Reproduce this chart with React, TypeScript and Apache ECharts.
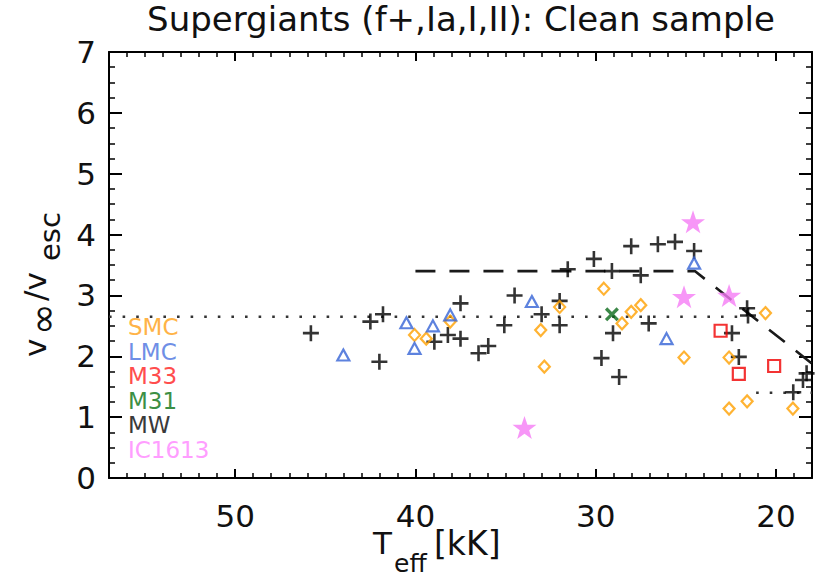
import React, { useEffect, useRef } from "react";
import * as echarts from "echarts";

const FONT = '"DejaVu Sans", "Liberation Sans", sans-serif';

const X_MIN = 18;
const X_MAX = 57;
const xMajorTicks = [20, 30, 40, 50];
const xMinorTicks = [
  18, 19, 21, 22, 23, 24, 25, 26, 27, 28, 29, 31, 32, 33, 34, 35, 36, 37, 38, 39,
  41, 42, 43, 44, 45, 46, 47, 48, 49, 51, 52, 53, 54, 55, 56, 57,
];
const Y_MIN = 0;
const Y_MAX = 7;

// [Teff (kK), v_inf / v_esc]
const mwPoints = [
  [45.8, 2.38], [42.5, 2.57], [41.8, 2.69], [42.0, 1.91], [38.95, 2.24],
  [38.2, 2.35], [37.5, 2.29], [37.5, 2.87], [36.5, 2.05], [35.96, 2.17],
  [35.07, 2.51], [34.5, 3.0], [33.0, 2.69], [32.0, 2.91], [32.0, 2.51],
  [31.55, 3.43], [30.1, 3.6], [29.1, 3.4], [29.68, 1.97], [29.04, 2.38],
  [28.7, 1.66], [28.03, 3.81], [27.5, 3.33], [27.06, 2.54], [26.55, 3.84],
  [25.6, 3.88], [24.54, 3.73], [22.44, 2.38], [22.06, 1.99], [21.6, 2.79],
  [21.55, 2.67], [19.04, 1.41], [18.5, 1.61], [18.3, 1.72],
];
const smcPoints = [
  [40.05, 2.35], [39.4, 2.29], [38.07, 2.57], [33.05, 2.43], [32.85, 1.83],
  [32.0, 2.81], [29.55, 3.11], [28.54, 2.54], [28.03, 2.73], [27.5, 2.84],
  [25.1, 1.98], [22.6, 1.98], [22.6, 1.14], [21.6, 1.26], [20.58, 2.71],
  [19.06, 1.14],
];
const lmcPoints = [
  [44.0, 2.02], [40.5, 2.55], [40.05, 2.13], [39.03, 2.5], [38.07, 2.68],
  [33.54, 2.9], [26.07, 2.29], [24.54, 3.53],
];
const m33Points = [[23.07, 2.42], [22.06, 1.71], [20.1, 1.84]];
const m31Points = [[29.1, 2.69]];
const ic1613Points = [[24.6, 4.21], [25.1, 2.98], [22.6, 3.0], [33.95, 0.83]];

const dashedTrend = [[40, 3.4], [24.5, 3.4], [18, 1.88]];
const dottedUpper = [[57, 2.65], [21.7, 2.65]];
const dottedLower = [[21.1, 1.4], [18, 1.4]];

const legendNames = ["SMC", "LMC", "M33", "M31", "MW", "IC1613"];
const legendColors = ["#FFB347", "#6F8FE6", "#FF4D4D", "#3C8F45", "#3A3A3A", "#FF9EFF"];

const titleText = "Supergiants (f+,Ia,I,II): Clean sample";

const PLUS = "path://M6.7,0h2.6v16h-2.6z M0,6.7h16v2.6h-16z";
const CROSS = "path://M0,2L2,0L12,10L10,12Z M10,0L12,2L2,12L0,10Z";
const STAR =
  "path://M50,0L61.8,35.1L98.1,35.1L68.8,56.7L79.4,90.9L50,70L20.6,90.9L31.2,56.7L1.9,35.1L38.2,35.1Z";

function txt(x: number, y: number, text: string, size: number, color: string, align = "left", va = "middle") {
  return {
    type: "text",
    x,
    y,
    silent: true,
    style: {
      text,
      fill: color,
      font: `${size}px ${FONT}`,
      align,
      verticalAlign: va,
      textAlign: align,
      textVerticalAlign: va,
    },
  };
}

export default function App() {
  const ref = useRef<HTMLDivElement>(null);

  useEffect(() => {
    if (!ref.current) return;
    const chart = echarts.init(ref.current, undefined, { renderer: "svg" });

    const xBase = {
      type: "value",
      min: X_MIN,
      max: X_MAX,
      inverse: true,
      splitLine: { show: false },
    };
    const majorX = (position: string, labels: boolean) => ({
      ...xBase,
      position,
      axisLine: { show: true, onZero: false, lineStyle: { color: "#000", width: 2 } },
      axisTick: { show: true, inside: true, length: 9, customValues: xMajorTicks, lineStyle: { color: "#000", width: 2 } },
      axisLabel: {
        show: labels,
        customValues: xMajorTicks,
        fontSize: 31,
        fontFamily: FONT,
        color: "#111",
        margin: 22,
      },
    });
    const minorX = (position: string) => ({
      ...xBase,
      position,
      axisLine: { show: false, onZero: false },
      axisTick: { show: true, inside: true, length: 5, customValues: xMinorTicks, lineStyle: { color: "#000", width: 1.5 } },
      axisLabel: { show: false },
    });
    const yAx = (position: string, labels: boolean) => ({
      type: "value",
      min: Y_MIN,
      max: Y_MAX,
      interval: 1,
      position,
      splitLine: { show: false },
      axisLine: { show: true, onZero: false, lineStyle: { color: "#000", width: 2 } },
      axisTick: { show: true, inside: true, length: 13, lineStyle: { color: "#000", width: 2 } },
      minorTick: { show: true, splitNumber: 4, length: 6, lineStyle: { color: "#000", width: 1.5 } },
      axisLabel: { show: labels, fontSize: 31, fontFamily: FONT, color: "#111", margin: 13 },
    });

    const outlined = (color: string) => ({ color: "rgba(255,255,255,0)", borderColor: color, borderWidth: 2.2 });

    const option = {
      animation: false,
      backgroundColor: "#fff",
      grid: { left: 109, right: 9, top: 52, bottom: 101, containLabel: false },
      xAxis: [majorX("bottom", true), minorX("bottom"), majorX("top", false), minorX("top")],
      yAxis: [yAx("left", true), yAx("right", false)],
      series: [
        {
          type: "line",
          data: dashedTrend,
          symbol: "none",
          lineStyle: { color: "#1a1a1a", width: 2.6, type: [20, 14] },
          z: 1,
        },
        {
          type: "line",
          data: dottedUpper,
          symbol: "none",
          lineStyle: { color: "#333", width: 2.6, type: [2.6, 11] },
          z: 1,
        },
        {
          type: "line",
          data: dottedLower,
          symbol: "none",
          lineStyle: { color: "#333", width: 2.6, type: [2.6, 11] },
          z: 1,
        },
        {
          name: "MW",
          type: "scatter",
          data: mwPoints,
          symbol: PLUS,
          symbolSize: 16,
          itemStyle: { color: "#000" },
          z: 3,
        },
        {
          name: "SMC",
          type: "scatter",
          data: smcPoints,
          symbol: "diamond",
          symbolSize: [11, 12],
          itemStyle: outlined("#FFA000"),
          z: 4,
        },
        {
          name: "LMC",
          type: "scatter",
          data: lmcPoints,
          symbol: "triangle",
          symbolSize: [12, 11],
          itemStyle: outlined("#3563D6"),
          z: 5,
        },
        {
          name: "M33",
          type: "scatter",
          data: m33Points,
          symbol: "rect",
          symbolSize: 12,
          itemStyle: outlined("#F00000"),
          z: 5,
        },
        {
          name: "M31",
          type: "scatter",
          data: m31Points,
          symbol: CROSS,
          symbolSize: 14,
          itemStyle: { color: "#0B6A1A" },
          z: 5,
        },
        {
          name: "IC1613",
          type: "scatter",
          data: ic1613Points,
          symbol: STAR,
          symbolSize: [24, 23],
          itemStyle: { color: "#F57CF5" },
          z: 6,
        },
      ],
      graphic: [
        txt(461, 19, titleText, 34, "#111", "center", "middle"),
        ...legendNames.map((n, i) => txt(128, 327 + i * 24.5, n, 23, legendColors[i])),
        txt(373, 543, "T", 31, "#111"),
        txt(394, 563, "eff", 25, "#111"),
        txt(434, 543, "[kK]", 33, "#111"),
        {
          type: "group",
          x: 50,
          y: 357,
          rotation: Math.PI / 2,
          children: [
            txt(0, 0, "v", 31, "#111", "left", "bottom"),
            txt(22, 12, "\u221E", 38, "#111", "left", "bottom"),
            txt(56, 0, "/v", 31, "#111", "left", "bottom"),
            txt(96, 14, "esc", 29, "#111", "left", "bottom"),
          ],
        },
      ],
    };

    chart.setOption(option as any);
    return () => chart.dispose();
  }, []);

  return (
    <div
      ref={ref}
      style={{ position: "fixed", left: 0, top: 0, width: 821, height: 579, background: "#fff" }}
    />
  );
}
